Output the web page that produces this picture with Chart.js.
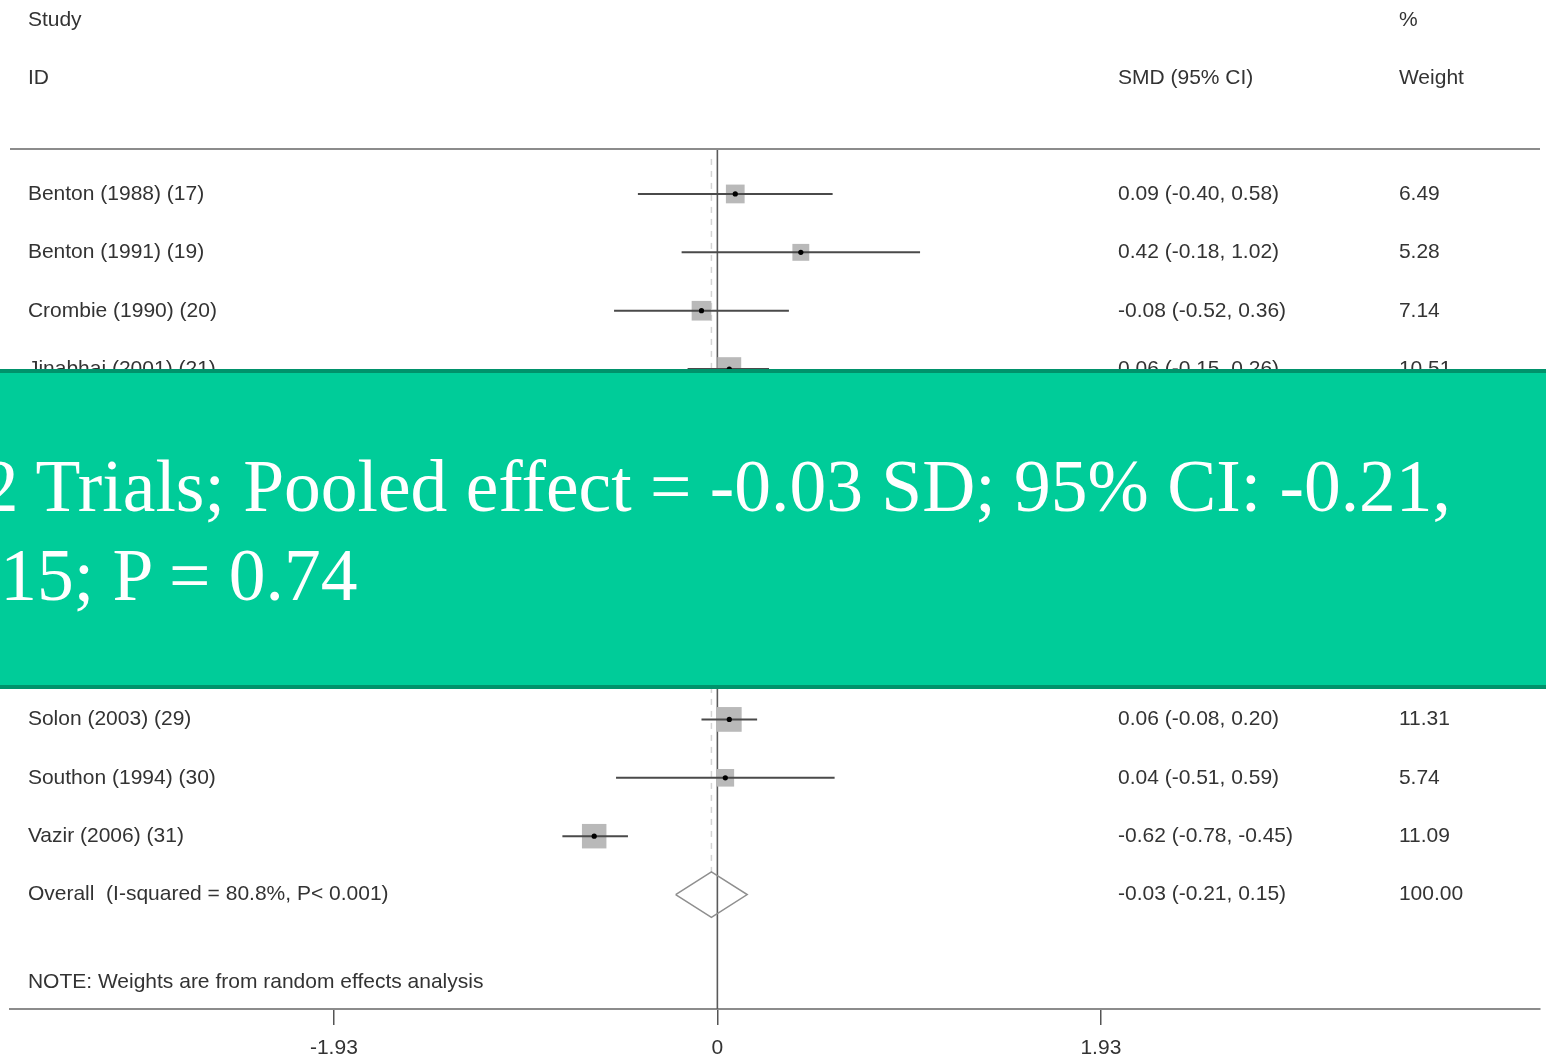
<!DOCTYPE html>
<html>
<head>
<meta charset="utf-8">
<script src="https://cdn.jsdelivr.net/npm/chart.js@4.4.1/dist/chart.umd.min.js"></script>
<style>
  html, body { margin: 0; padding: 0; background: #fff; }
  #wrap { position: relative; width: 1546px; height: 1057px; overflow: hidden; }
  #plot { position: absolute; left: 0; top: 0; width: 1546px; height: 1057px; filter: blur(0.6px); }
  #banner {
    position: absolute; left: 0; top: 369px; width: 1546px; height: 320px;
    box-sizing: border-box; background: #00cc99;
    border-top: 4px solid #00926b; border-bottom: 4px solid #00926b;
  }
  #bannerText {
    position: absolute; left: -55px; top: 442px;
    font-family: "Liberation Serif", "Times New Roman", serif;
    font-size: 73.5px; line-height: 89px; color: #fff; white-space: nowrap;
  }
</style>
</head>
<body>
<div id="wrap">
  <div id="plot"><canvas id="c"></canvas></div>
  <div id="banner"></div>
  <div id="bannerText">12 Trials; Pooled effect = -0.03 SD; 95% CI: -0.21,<br>0.15; P = 0.74</div>
</div>
<script>
// Trials in list order (row = position of the trial in the forest plot)
const studies = ["Benton (1988) (17)", "Benton (1991) (19)", "Crombie (1990) (20)", "Jinabhai (2001) (21)",
                 "Solon (2003) (29)", "Southon (1994) (30)", "Vazir (2006) (31)"];
const rows    = [0, 1, 2, 3, 9, 10, 11];
const smd     = [0.09, 0.42, -0.08, 0.06, 0.06, 0.04, -0.62];
const ciLow   = [-0.40, -0.18, -0.52, -0.15, -0.08, -0.51, -0.78];
const ciHigh  = [0.58, 1.02, 0.36, 0.26, 0.20, 0.59, -0.45];
const weights = [6.49, 5.28, 7.14, 10.51, 11.31, 5.74, 11.09];

// Pooled random-effects estimate
const overallLabel = "Overall  (I-squared = 80.8%, P< 0.001)";
const overallEst = -0.03, overallLow = -0.21, overallHigh = 0.15, overallWeight = 100.00;
const overallRow = 12;
const noteText = "NOTE: Weights are from random effects analysis";

const xTicks = [-1.93, 0, 1.93];

const FONT = '"Liberation Sans", Arial, sans-serif';
const TEXT = '#333';
const Y_MIN = -0.77, Y_MAX = 13.96;

const datasets = [];

// centre dots
datasets.push({
  data: rows.map((r, i) => ({ x: smd[i], y: r })),
  pointStyle: 'circle', pointRadius: 2.6, pointBackgroundColor: '#000', pointBorderWidth: 0,
  showLine: false, order: 0
});
// confidence interval lines
rows.forEach((r, i) => {
  datasets.push({
    data: [{ x: ciLow[i], y: r }, { x: ciHigh[i], y: r }],
    showLine: true, borderColor: '#4a4a4a', borderWidth: 2, pointRadius: 0, order: 1
  });
});
// weight squares (area proportional to weight)
datasets.push({
  data: rows.map((r, i) => ({ x: smd[i], y: r })),
  pointStyle: 'rect', pointRadius: weights.map(w => 5.2 * Math.sqrt(w)),
  pointBackgroundColor: '#b9b9b9', pointBorderWidth: 0, showLine: false, order: 2
});
// pooled diamond
const dh = 0.39;
datasets.push({
  data: [
    { x: overallLow, y: overallRow }, { x: overallEst, y: overallRow - dh },
    { x: overallHigh, y: overallRow }, { x: overallEst, y: overallRow + dh },
    { x: overallLow, y: overallRow }
  ],
  showLine: true, borderColor: '#8f8f8f', borderWidth: 1.5, pointRadius: 0, tension: 0, order: 3
});
// line of no effect
datasets.push({
  data: [{ x: 0, y: Y_MIN }, { x: 0, y: Y_MAX }],
  showLine: true, borderColor: '#5a5a5a', borderWidth: 1.6, pointRadius: 0, order: 4
});
// pooled estimate reference line
datasets.push({
  data: [{ x: overallEst, y: -0.6 }, { x: overallEst, y: overallRow - dh }],
  showLine: true, borderColor: '#d4d4d4', borderWidth: 1.5, borderDash: [6, 6], pointRadius: 0, order: 5
});

const fmt = v => v.toFixed(2);

const textPlugin = {
  id: 'forestText',
  afterDraw(chart) {
    const { ctx, chartArea, scales: { x, y } } = chart;
    const colStudy = x.getPixelForValue(-3.47);
    const colSMD = x.getPixelForValue(2.016);
    const colW = x.getPixelForValue(3.43);
    ctx.save();
    // header rule
    ctx.strokeStyle = '#8c8c8c';
    ctx.lineWidth = 2;
    ctx.beginPath();
    ctx.moveTo(chartArea.left, chartArea.top);
    ctx.lineTo(chartArea.right, chartArea.top);
    ctx.stroke();

    ctx.fillStyle = TEXT;
    ctx.font = '21px ' + FONT;
    ctx.textBaseline = 'middle';
    ctx.textAlign = 'left';
    // column headers
    ctx.fillText('Study', colStudy, y.getPixelForValue(-2.98));
    ctx.fillText('ID', colStudy, y.getPixelForValue(-1.99));
    ctx.fillText('SMD (95% CI)', colSMD, y.getPixelForValue(-1.99));
    ctx.fillText('%', colW, y.getPixelForValue(-2.98));
    ctx.fillText('Weight', colW, y.getPixelForValue(-1.99));
    // study rows
    rows.forEach((r, i) => {
      const py = y.getPixelForValue(r);
      ctx.fillText(studies[i], colStudy, py);
      ctx.fillText(`${fmt(smd[i])} (${fmt(ciLow[i])}, ${fmt(ciHigh[i])})`, colSMD, py);
      ctx.fillText(fmt(weights[i]), colW, py);
    });
    // overall row
    const oy = y.getPixelForValue(overallRow);
    ctx.fillText(overallLabel, colStudy, oy);
    ctx.fillText(`${fmt(overallEst)} (${fmt(overallLow)}, ${fmt(overallHigh)})`, colSMD, oy);
    ctx.fillText(fmt(overallWeight), colW, oy);
    // note
    ctx.fillText(noteText, colStudy, y.getPixelForValue(overallRow + 1.5));
    ctx.restore();
  }
};

new Chart(document.getElementById('c'), {
  type: 'scatter',
  data: { datasets },
  plugins: [textPlugin],
  options: {
    responsive: true,
    maintainAspectRatio: false,
    animation: false,
    events: [],
    layout: { autoPadding: false, padding: { top: 149, left: 10, right: 6, bottom: 0 } },
    plugins: { legend: { display: false }, tooltip: { enabled: false } },
    scales: {
      x: {
        type: 'linear', min: -3.56, max: 4.14, position: 'bottom',
        afterBuildTicks: s => { s.ticks = xTicks.map(v => ({ value: v })); },
        afterFit: s => { s.height = 48; },
        grid: { display: true, drawOnChartArea: false, drawTicks: true, tickLength: 16, color: '#555', lineWidth: 1.5 },
        border: { display: true, color: '#8c8c8c', width: 2 },
        ticks: { color: TEXT, font: { family: FONT, size: 21 }, padding: 11, maxRotation: 0, callback: v => String(v) }
      },
      y: { type: 'linear', display: false, reverse: true, min: Y_MIN, max: Y_MAX }
    }
  }
});
</script>
</body>
</html>
